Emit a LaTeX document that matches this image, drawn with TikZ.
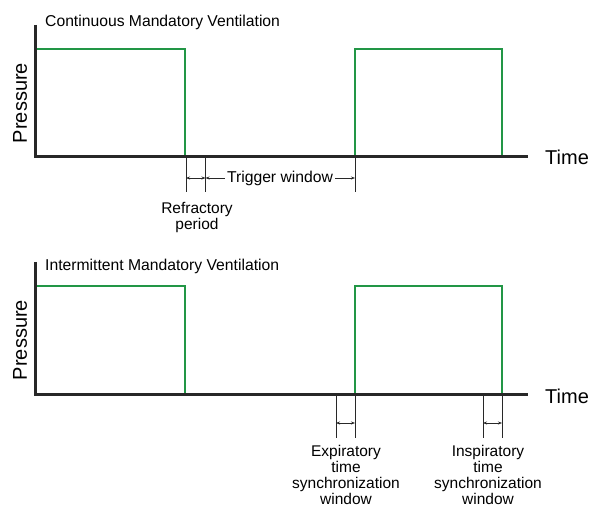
\documentclass[tikz,border=0pt]{standalone}
\usepackage{fontspec}
\setmainfont{Liberation Sans}
\usetikzlibrary{arrows.meta}
\definecolor{pulsegreen}{RGB}{34,150,70}
\definecolor{axisgray}{RGB}{40,40,40}
\tikzset{
  axisline/.style={line width=3pt,axisgray},
  pulse/.style={line width=1.3pt,pulsegreen},
  tickline/.style={line width=0.9pt,axisgray},
  dimarrow/.style={line width=0.7pt,axisgray,-{Stealth[length=4pt,width=3pt]}},
  smalltext/.style={font=\fontsize{15.7}{16}\selectfont,inner sep=0pt},
  axistext/.style={font=\fontsize{20}{22}\selectfont,inner sep=0pt},
  notetext/.style={font=\fontsize{15.5}{16}\selectfont,inner sep=0pt,align=center,anchor=north}
}
\begin{document}
\begin{tikzpicture}[x=1pt,y=-1pt]
  \useasboundingbox[fill=white] (0,0) rectangle (590,508);
  % top panel: continuous mandatory ventilation
  \coordinate (o1) at (35,157);
  \coordinate (ytop1) at (35,25);
  \coordinate (xend1) at (528,157);
  \draw[pulse] (35,157)--(35,49)--(185,49)--(185,157);
  \draw[pulse] (355,157)--(355,49)--(502,49)--(502,157);
  \draw[axisline] (ytop1)--(o1)--(xend1);
  \node[smalltext,anchor=base west] (title1) at (45,27) {Continuous Mandatory Ventilation};
  \node[axistext,rotate=90] (press1) at (20,103) {Pressure};
  \node[axistext,anchor=base west] (time1) at (545,165) {Time};
  \foreach \x/\n in {186/a,205.5/b,355/c} {
    \coordinate (t1\n) at (\x,157);
    \coordinate (b1\n) at (\x,192);
    \draw[tickline] (t1\n)--(b1\n);
    \coordinate (m1\n) at (\x,178);
  }
  \coordinate (m1ab) at (195.75,178);
  \draw[dimarrow] (m1ab)--(m1a);
  \draw[dimarrow] (m1ab)--(m1b);
  \node[smalltext] (trig) at (280,178) {Trigger window};
  \draw[dimarrow] (trig.west)++(-2,0)--(m1b);
  \draw[dimarrow] (trig.east)++(2,0)--(m1c);
  \node[notetext] (refr) at (197,202) {Refractory\\period};
  % bottom panel: intermittent mandatory ventilation
  \coordinate (o2) at (35,394);
  \coordinate (ytop2) at (35,262);
  \coordinate (xend2) at (528,394);
  \draw[pulse] (35,394)--(35,286)--(185,286)--(185,394);
  \draw[pulse] (355,394)--(355,286)--(502,286)--(502,394);
  \draw[axisline] (ytop2)--(o2)--(xend2);
  \node[smalltext,anchor=base west] (title2) at (45,271) {Intermittent Mandatory Ventilation};
  \node[axistext,rotate=90] (press2) at (20,340) {Pressure};
  \node[axistext,anchor=base west] (time2) at (545,403) {Time};
  \foreach \x/\n in {336/a,355/b,483/c,502/d} {
    \coordinate (t2\n) at (\x,394);
    \coordinate (b2\n) at (\x,438);
    \draw[tickline] (t2\n)--(b2\n);
    \coordinate (m2\n) at (\x,423);
  }
  \coordinate (m2ab) at (345.5,423);
  \coordinate (m2cd) at (492.5,423);
  \draw[dimarrow] (m2ab)--(m2a);
  \draw[dimarrow] (m2ab)--(m2b);
  \draw[dimarrow] (m2cd)--(m2c);
  \draw[dimarrow] (m2cd)--(m2d);
  \node[notetext] (expi) at (346,445) {Expiratory\\time\\synchronization\\window};
  \node[notetext] (inspi) at (488,445) {Inspiratory\\time\\synchronization\\window};
\end{tikzpicture}
\end{document}
